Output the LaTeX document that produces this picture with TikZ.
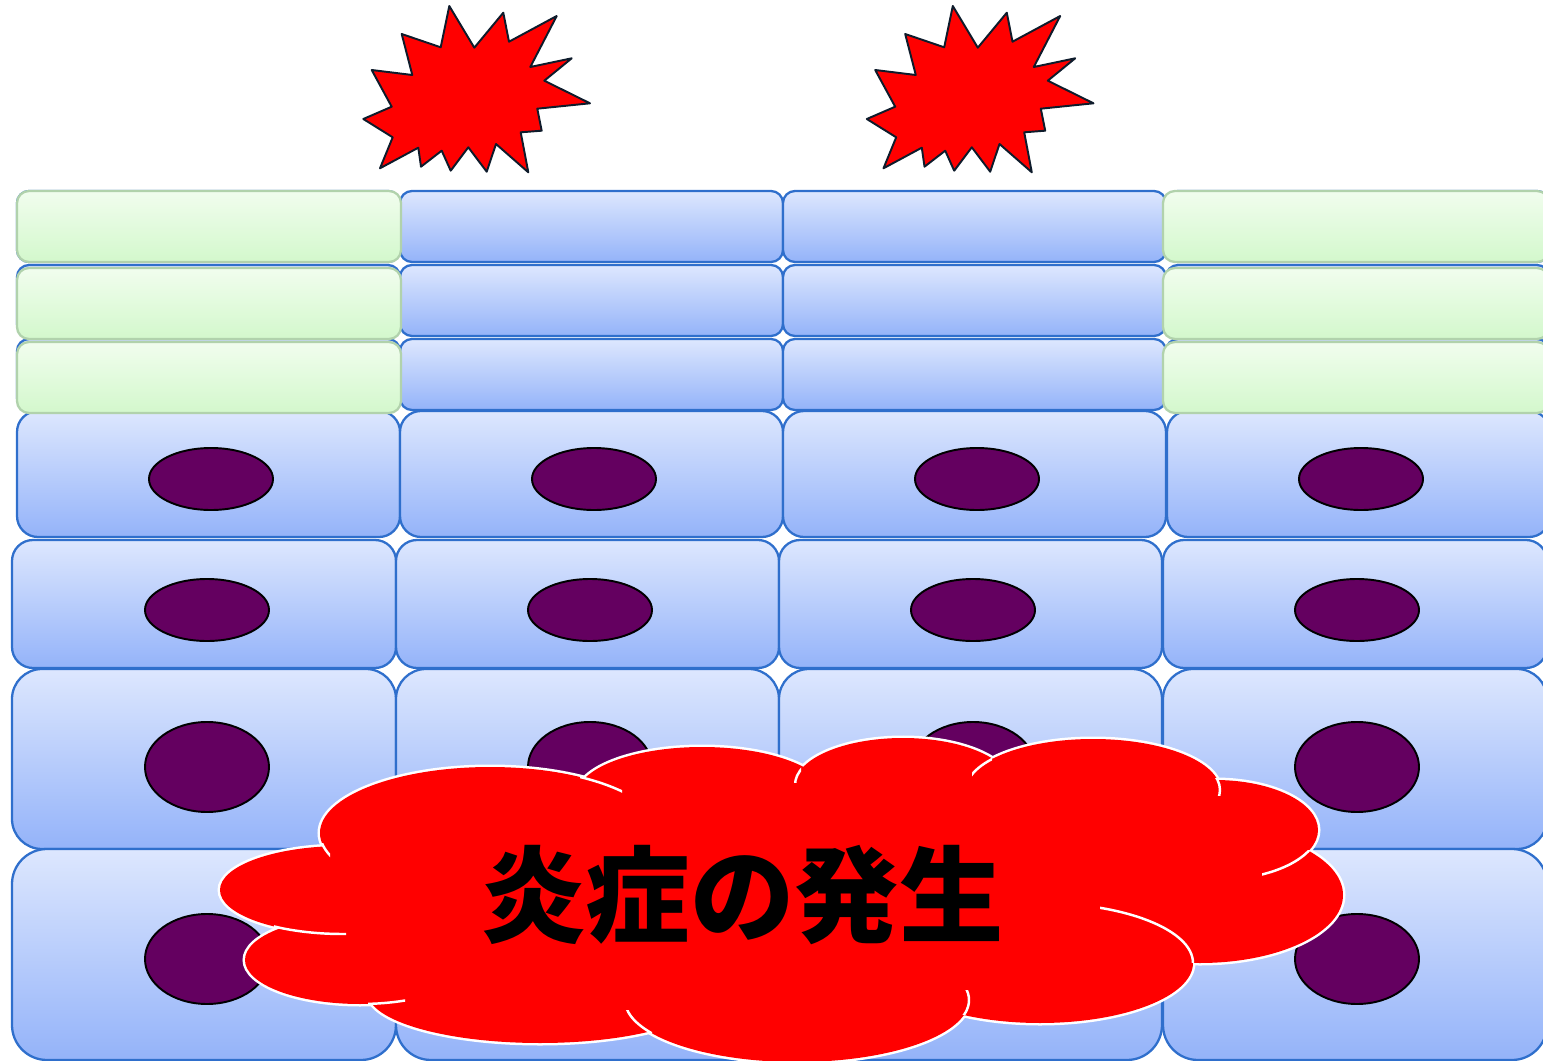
\documentclass[tikz,border=0pt]{standalone}
\usepackage{fontspec}
\newfontfamily\cjk{Noto Sans CJK JP}

\definecolor{cellTop}{HTML}{DDE7FE}
\definecolor{cellBot}{HTML}{94B3F9}
\definecolor{cellLine}{HTML}{2F6FCC}
\definecolor{greenTop}{HTML}{F1FDEE}
\definecolor{greenBot}{HTML}{D3F8CC}
\definecolor{greenLine}{HTML}{B1D2AC}
\definecolor{nucleus}{HTML}{640060}
\definecolor{burstLine}{HTML}{0E1B2B}
\definecolor{flame}{HTML}{FF0000}

\tikzset{
  cell/.style={draw=cellLine, line width=1.3pt, top color=cellTop, bottom color=cellBot},
  calmcell/.style={draw=greenLine, line width=1.3pt, top color=greenTop, bottom color=greenBot},
  nuc/.style={draw=black, line width=1.1pt, fill=nucleus},
  burst/.style={draw=burstLine, line width=1.1pt, line join=round, fill=flame},
  lobeline/.style={draw=white, line width=2.85pt},
  lobetail/.style={draw=white, line width=1.4pt},
  starburst/.pic={
    \draw[burst] (449.3,6) -- (474.3,47.7) -- (503.3,12.7) -- (509,41.7) -- (556.7,16)
      -- (530.3,67) -- (571.7,58.3) -- (544.3,80.7) -- (590,103.3) -- (537.3,108.7)
      -- (541.7,130.7) -- (520.7,132.3) -- (528.3,172.3) -- (496,144) -- (486.7,171.7)
      -- (468.3,147.3) -- (450.7,170.7) -- (441.7,150.7) -- (421,166.7) -- (418.3,147.7)
      -- (380,168.3) -- (392.7,137.3) -- (363.3,119) -- (391.7,106.7) -- (371.7,70)
      -- (412.3,75) -- (401.7,34) -- (440.7,47.3) -- cycle;
  }
}

\begin{document}
\begin{tikzpicture}[x=0.02cm, y=-0.02cm]
\useasboundingbox (0,0) rectangle (1543,1061);
\clip (0,0) rectangle (1543,1061);

% thin surface layers
\foreach \ya/\yb in {191/262, 265/336, 339/410}{
  \foreach \xa/\xb in {17/400, 400/783, 783/1166, 1166/1549}{
    \draw[cell, rounded corners=0.24cm] (\xa,\ya) rectangle (\xb,\yb);
  }
}

% first row of nucleated cells
\foreach \xa/\xb/\nx in {17/400/211, 400/783/594, 783/1166/977, 1167/1550/1361}{
  \draw[cell, rounded corners=0.42cm] (\xa,411) rectangle (\xb,537);
  \draw[nuc] (\nx,479) ellipse [x radius=62, y radius=31];
}

% deeper rows of nucleated cells
\foreach \ya/\yb/\rc/\ny/\nry in {540/668/0.42/610/31, 669/849/0.6/767/45, 849/1060/0.7/959/45}{
  \foreach \xa/\xb/\nx in {12/396/207, 396/779/590, 779/1162/973, 1163/1547/1357}{
    \draw[cell, rounded corners=\rc cm] (\xa,\ya) rectangle (\xb,\yb);
    \draw[nuc] (\nx,\ny) ellipse [x radius=62, y radius=\nry];
  }
}

% healthy surface layers at both sides
\foreach \ya/\yb in {191/262, 268/339, 342/413}{
  \draw[calmcell, rounded corners=0.24cm] (17,\ya) rectangle (401,\yb);
  \draw[calmcell, rounded corners=0.24cm] (1163,\ya) rectangle (1549,\yb);
}

% stimuli
\pic at (0,0) {starburst};
\pic at (503.5,0) {starburst};

% inflammation cloud: outline pass, then fill pass
\def\lobes{343/890/123/44, 360/960/115/44, 540/993/172/50, 797/1000/172/62,
  1040/963/153/60, 1200/895/143/68, 1215/830/103/50, 1093/790/127/51,
  702/795/125/48, 903/785/108/47, 490/833/170/66}
\foreach \cx/\cy/\rx/\ry in \lobes{
  \draw[lobeline] (\cx,\cy) ellipse [x radius=\rx, y radius=\ry];
}
\foreach \cx/\cy/\rx/\ry in \lobes{
  \fill[flame] (\cx,\cy) ellipse [x radius=\rx, y radius=\ry];
}
\fill[flame] (780,900) ellipse [x radius=430, y radius=120];

% short inner arcs of the cloud lobes
\foreach \cx/\cy/\rx/\ry/\xa/\ya/\xb/\yb in {
  343/890/123/44/274/918/346/940,
  360/960/115/44/368/992/405/1010,
  490/833/170/66/318/843/330/858,
  490/833/170/66/580/765/622/792,
  903/785/108/47/792/765/801/782,
  1093/790/127/51/972/758/992/776,
  1093/790/127/51/1212/778/1224/795,
  1215/830/103/50/1262/850/1310/878,
  1040/963/153/60/1100/900/1196/962,
  797/1000/172/62/955/990/975/1014,
  797/1000/172/62/622/1010/652/1034}{
  \begin{scope}
    \clip (\xa,\ya) rectangle (\xb,\yb);
    \draw[lobetail] (\cx,\cy) ellipse [x radius=\rx, y radius=\ry];
  \end{scope}
}

\node[font=\cjk\bfseries\fontsize{59.4pt}{63pt}\selectfont, inner sep=0pt]
  (inflammation) at (742.5,895) {炎症の発生};
\end{tikzpicture}
\end{document}
